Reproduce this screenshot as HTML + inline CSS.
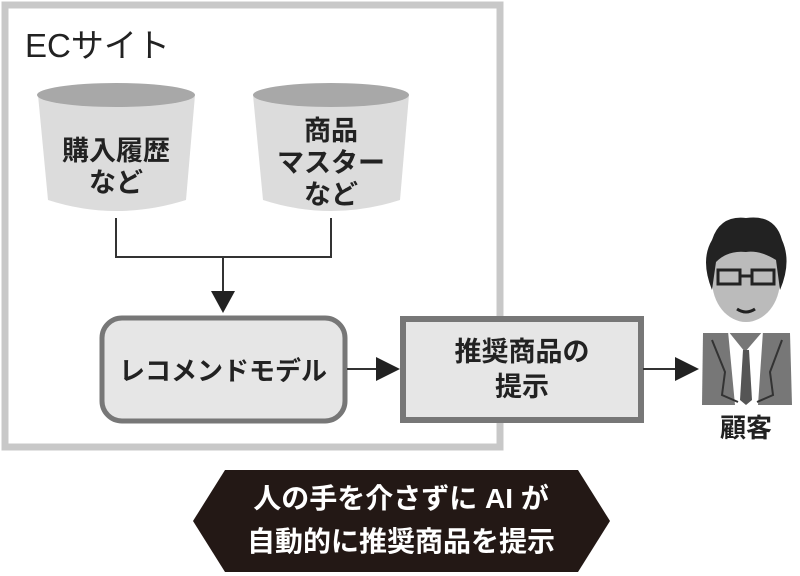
<!DOCTYPE html>
<html><head><meta charset="utf-8"><style>
html,body{margin:0;padding:0;background:#fff;width:800px;height:576px;overflow:hidden}
svg text{font-family:"Liberation Sans","Noto Sans CJK JP",sans-serif}
.b{font-weight:bold}
</style></head><body>
<svg width="800" height="576" viewBox="0 0 800 576" xmlns="http://www.w3.org/2000/svg">
<rect x="5" y="5" width="495" height="442" fill="#fff" stroke="#c8c8c8" stroke-width="7"/>
<text x="25" y="57" font-size="33" fill="#222">ECサイト</text>
<g fill="#dcdcdc">
<path d="M38 95 L48 200 Q116 222 186 200 L195 95 Z"/>
<path d="M253 95 L263 200 Q331 222 400 200 L409 95 Z"/>
</g>
<ellipse cx="116" cy="95" rx="79" ry="12" fill="#a8a8a8"/>
<ellipse cx="331" cy="95" rx="78" ry="12" fill="#a8a8a8"/>
<g font-size="27" fill="#222" text-anchor="middle" class="b">
<text x="116" y="160">購入履歴</text>
<text x="116" y="192">など</text>
<text x="331" y="140">商品</text>
<text x="331" y="172">マスター</text>
<text x="331" y="204">など</text>
</g>
<path d="M116 218 V257 H331 V218 M223 257 V292" fill="none" stroke="#333" stroke-width="2"/>
<polygon points="211,291 235,291 223,313" fill="#222"/>
<rect x="102" y="318" width="243" height="103" rx="20" fill="#e6e6e6" stroke="#777" stroke-width="5"/>
<text x="223" y="380" font-size="26" fill="#222" text-anchor="middle" class="b">レコメンドモデル</text>
<line x1="347" y1="369" x2="380" y2="369" stroke="#333" stroke-width="2"/>
<polygon points="376,357 400,369 376,381" fill="#222"/>
<rect x="403" y="319" width="238" height="101" fill="#e6e6e6" stroke="#777" stroke-width="6"/>
<text x="522" y="361" font-size="27" fill="#222" text-anchor="middle" class="b">推奨商品の</text>
<text x="522" y="396" font-size="27" fill="#222" text-anchor="middle" class="b">提示</text>
<line x1="643" y1="369" x2="680" y2="369" stroke="#333" stroke-width="2"/>
<polygon points="675,357 699,369 675,381" fill="#222"/>
<path d="M703 333 L790 333 L792 405 L702 405 Z" fill="#777"/>
<path d="M728 331 L745 352 L763 331 L758 405 L735 405 Z" fill="#fff"/>
<path d="M743 350 L749 350 L752 400 L746 405 L740 400 Z" fill="#555"/>
<path d="M712 340 L725 372 L722 395 L738 402 M782 340 L770 372 L773 395 L757 402" fill="none" stroke="#333" stroke-width="2"/>
<ellipse cx="746" cy="280" rx="34" ry="42" fill="#bbb"/>
<path d="M712 290 Q700 260 712 240 Q720 215 746 218 Q775 214 782 240 Q792 262 780 290 L776 260 Q760 250 746 252 Q728 250 716 262 Z" fill="#222"/>
<rect x="718" y="270" width="22" height="14" fill="none" stroke="#222" stroke-width="3"/>
<rect x="752" y="270" width="22" height="14" fill="none" stroke="#222" stroke-width="3"/>
<line x1="740" y1="276" x2="752" y2="276" stroke="#222" stroke-width="3"/>
<path d="M737 309 Q746 315 755 309" fill="none" stroke="#222" stroke-width="3"/>
<text x="746" y="437" font-size="26" fill="#222" text-anchor="middle" class="b">顧客</text>
<polygon points="225,470 578,470 610,521 578,572 225,572 193,521" fill="#231815"/>
<text x="401" y="508" font-size="28" fill="#fff" text-anchor="middle" class="b">人の手を介さずに AI が</text>
<text x="401" y="551" font-size="28" fill="#fff" text-anchor="middle" class="b">自動的に推奨商品を提示</text>
</svg>
</body></html>
